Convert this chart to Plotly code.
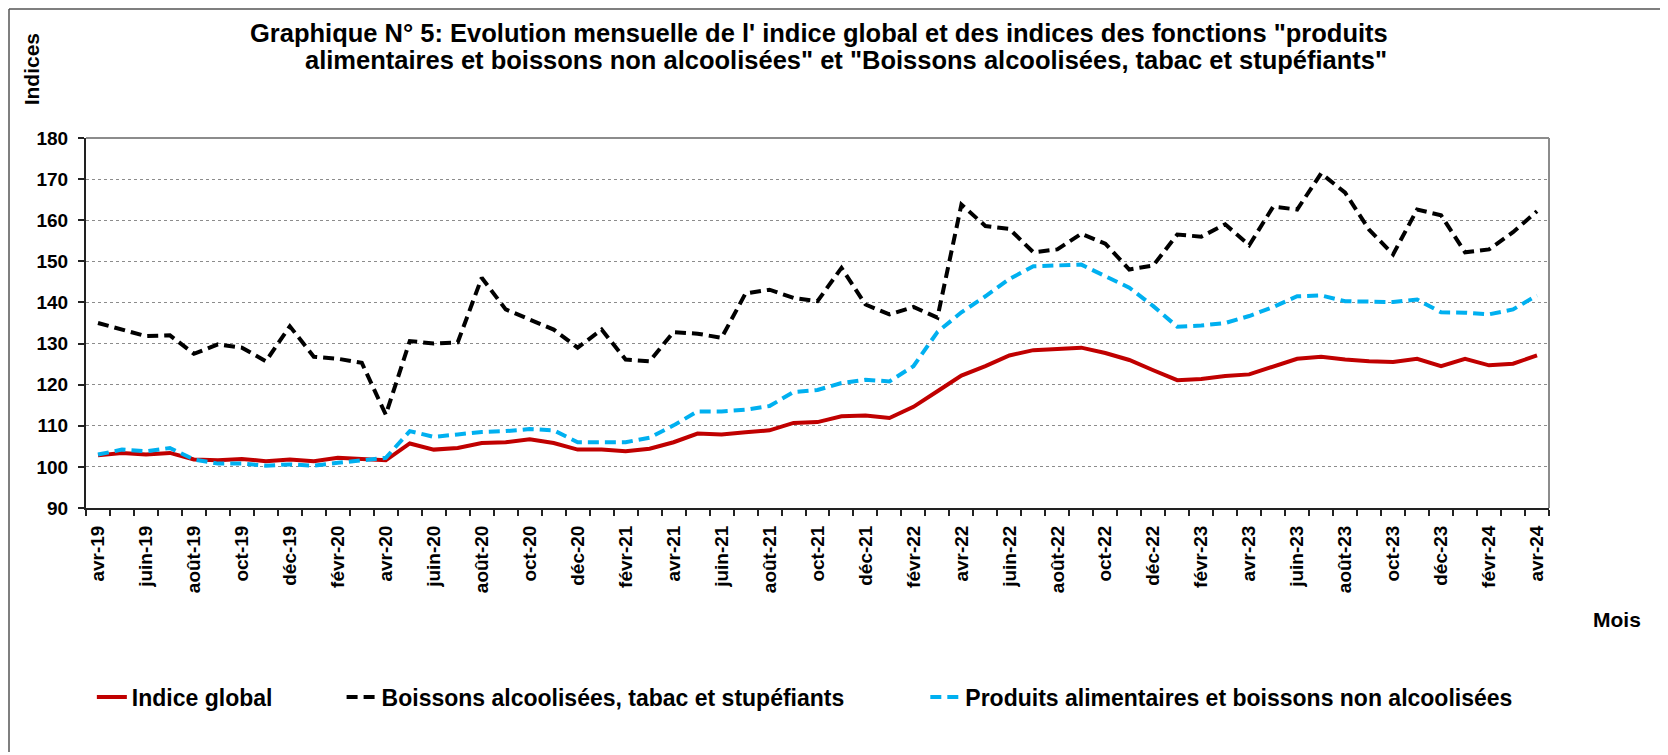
import plotly.graph_objects as go

months = []
mnames = ["janv", "févr", "mars", "avr", "mai", "juin", "juil", "août", "sept", "oct", "nov", "déc"]
for k in range(61):
    m = (3 + k) % 12
    y = 19 + (3 + k) // 12
    months.append(f"{mnames[m]}-{y}")

indice_global = [102.8, 103.4, 103.0, 103.4, 101.8, 101.6, 101.9, 101.4, 101.8, 101.4,
                 102.2, 102.0, 101.6, 105.7, 104.2, 104.6, 105.8, 106.0, 106.7, 105.8,
                 104.2, 104.2, 103.8, 104.4, 106.0, 108.1, 107.9, 108.4, 108.9, 110.7,
                 110.9, 112.3, 112.5, 111.9, 114.6, 118.4, 122.2, 124.5, 127.1, 128.4,
                 128.7, 129.0, 127.7, 126.0, 123.5, 121.1, 121.4, 122.1, 122.5, 124.3,
                 126.3, 126.8, 126.1, 125.7, 125.5, 126.3, 124.5, 126.3, 124.7, 125.1,
                 127.1]

boissons_alcool = [135.0, 133.4, 131.8, 132.0, 127.5, 129.8, 129.0, 125.7, 134.2, 126.8,
                   126.3, 125.3, 112.7, 130.6, 130.0, 130.3, 146.0, 138.3, 135.8, 133.4,
                   129.0, 133.4, 126.1, 125.7, 132.8, 132.4, 131.4, 142.2, 143.1, 141.1,
                   140.3, 148.4, 139.5, 137.1, 138.9, 136.3, 163.8, 158.6, 157.9, 152.2,
                   152.9, 156.7, 154.3, 148.0, 149.0, 156.5, 156.0, 159.0, 153.9, 163.3,
                   162.6, 171.4, 166.7, 157.7, 151.7, 162.6, 161.2, 152.2, 152.9, 157.1,
                   162.2]

produits_alim = [103.0, 104.2, 103.8, 104.6, 101.8, 100.8, 100.8, 100.3, 100.6, 100.3,
                 101.0, 101.6, 102.2, 108.7, 107.3, 107.9, 108.5, 108.7, 109.2, 108.9,
                 106.0, 106.0, 106.0, 107.1, 110.1, 113.5, 113.5, 113.9, 114.8, 118.2,
                 118.7, 120.4, 121.2, 120.8, 124.5, 132.8, 137.6, 141.5, 145.7, 148.8,
                 149.0, 149.2, 146.4, 143.6, 139.1, 134.1, 134.4, 135.0, 136.7, 138.9,
                 141.5, 141.7, 140.3, 140.1, 140.1, 140.7, 137.6, 137.5, 137.1, 138.3,
                 141.7]

y_ticks = [90, 100, 110, 120, 130, 140, 150, 160, 170, 180]

title_lines = ["Graphique N° 5: Evolution mensuelle de l' indice global et des indices des fonctions \"produits",
               "alimentaires et boissons non alcoolisées\" et \"Boissons alcoolisées, tabac et stupéfiants\""]

FONT = "Liberation Sans, Arial, sans-serif"
x = list(range(len(months)))

fig = go.Figure()
fig.add_trace(go.Scatter(x=x, y=indice_global, mode="lines", name="Indice global",
                         line=dict(color="#C00000", width=4), legend="legend"))
fig.add_trace(go.Scatter(x=x, y=boissons_alcool, mode="lines",
                         name="Boissons alcoolisées, tabac et stupéfiants",
                         line=dict(color="#000000", width=4, dash="11px,6px"), legend="legend2"))
fig.add_trace(go.Scatter(x=x, y=produits_alim, mode="lines",
                         name="Produits alimentaires et boissons non alcoolisées",
                         line=dict(color="#00B0F0", width=4, dash="11px,6px"), legend="legend3"))

legend_common = dict(orientation="h", yanchor="middle", y=-0.511, xanchor="left",
                     font=dict(family=FONT, size=23, color="black", weight="bold"),
                     bgcolor="rgba(0,0,0,0)", borderwidth=0)

frame = dict(color="#555", width=1.5)

fig.update_layout(
    width=1660, height=747,
    margin=dict(l=78, r=119, t=130, b=247, autoexpand=False),
    paper_bgcolor="white", plot_bgcolor="white",
    showlegend=True,
    legend=dict(x=0.004, **legend_common),
    legend2=dict(x=0.1747, **legend_common),
    legend3=dict(x=0.5737, **legend_common),
    xaxis=dict(range=[-0.5, len(months) - 0.5], tickmode="array",
               tickvals=x[::2], ticktext=months[::2], tickangle=-90,
               ticks="", showgrid=False, zeroline=False,
               showline=True, linecolor="#222", linewidth=2,
               tickfont=dict(family=FONT, size=19, color="black", weight="bold"),
               ticklabelstandoff=8,
               minor=dict(tickmode="linear", tick0=-0.5, dtick=1, ticks="outside",
                          ticklen=6, tickcolor="#222", tickwidth=1.5, showgrid=False)),
    yaxis=dict(range=[90, 180], tickmode="array", tickvals=y_ticks,
               ticks="outside", ticklen=6, tickcolor="#222", tickwidth=1.5,
               showgrid=True, gridcolor="#8c8c8c", griddash="dot", gridwidth=1,
               zeroline=False, showline=True, linecolor="#222", linewidth=2,
               tickfont=dict(family=FONT, size=19, color="black", weight="bold"),
               ticklabelstandoff=6),
    shapes=[
        dict(type="line", xref="paper", yref="paper", x0=0, x1=1, y0=1, y1=1,
             line=dict(color="#8c8c8c", width=2)),
        dict(type="line", xref="paper", yref="paper", x0=1, x1=1, y0=0, y1=1,
             line=dict(color="#8c8c8c", width=2)),
        # outer chart frame
        dict(type="line", xref="paper", yref="paper", x0=-0.05263, x1=-0.05263,
             y0=-0.6595, y1=1.3486, line=frame),
        dict(type="line", xref="paper", yref="paper", x0=1.0793, x1=1.0793,
             y0=-0.6595, y1=1.3486, line=frame),
        dict(type="line", xref="paper", yref="paper", x0=-0.05263, x1=1.0793,
             y0=1.3486, y1=1.3486, line=frame),
    ],
    annotations=[
        dict(text=title_lines[0], xref="paper", yref="paper", x=0.501, y=1.2846,
             showarrow=False, xanchor="center", yanchor="middle",
             font=dict(family=FONT, size=25.5, color="black", weight="bold")),
        dict(text=title_lines[1], xref="paper", yref="paper", x=0.5195, y=1.2116,
             showarrow=False, xanchor="center", yanchor="middle",
             font=dict(family=FONT, size=25.5, color="black", weight="bold")),
        dict(text="Indices", xref="paper", yref="paper", x=-0.0375, y=1.186,
             textangle=-90, showarrow=False, xanchor="center", yanchor="middle",
             font=dict(family=FONT, size=21, color="black", weight="bold")),
        dict(text="Mois", xref="paper", yref="paper", x=1.0465, y=-0.3,
             showarrow=False, xanchor="center", yanchor="middle",
             font=dict(family=FONT, size=21, color="black", weight="bold")),
    ],
)

fig.write_html("out.html")
